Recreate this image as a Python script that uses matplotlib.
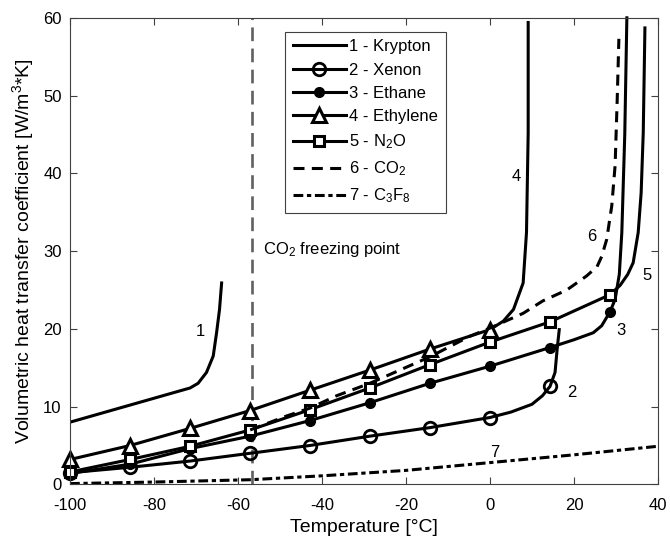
import numpy as np
import matplotlib.pyplot as plt

plt.rcParams['font.family'] = ['Liberation Sans', 'DejaVu Sans']
plt.rcParams['mathtext.fontset'] = 'custom'
plt.rcParams['mathtext.rm'] = 'Liberation Sans'
plt.rcParams['mathtext.it'] = 'Liberation Sans'
plt.rcParams['axes.unicode_minus'] = False

# temperatures where markers sit
mark_T = [-100, -85.7, -71.4, -57.1, -42.9, -28.6, -14.3, 0, 14.3, 28.6]

# 1 - Krypton
kr_T = [-100, -85.7, -71.4, -69.5, -67.5, -65.9, -65.1, -64.4, -63.9]
kr_V = [8.0, 10.2, 12.4, 13.0, 14.4, 16.5, 19.5, 22.5, 25.9]

# 2 - Xenon
xe_T = [-100, -85.7, -71.4, -57.1, -42.9, -28.6, -14.3, 0, 5, 10, 12.5, 14.3, 15.5, 16.0, 16.5]
xe_V = [1.5, 2.2, 3.0, 4.0, 5.0, 6.2, 7.3, 8.6, 9.3, 10.3, 11.4, 12.6, 14.4, 17.4, 19.9]

# 3 - Ethane
et_T = [-100, -85.7, -71.4, -57.1, -42.9, -28.6, -14.3, 0, 14.3, 20, 24.6, 26.6, 28.6,
        29.8, 30.8, 31.4, 32.1, 32.5, 32.6]
et_V = [1.4, 2.6, 4.6, 6.2, 8.2, 10.5, 13.0, 15.2, 17.6, 18.6, 19.5, 20.4, 22.2,
        23.8, 27.0, 32.4, 45.0, 57.0, 60.0]

# 4 - Ethylene
ey_T = [-100, -85.7, -71.4, -57.1, -42.9, -28.6, -14.3, 0, 3.2, 5.6, 7.9, 8.7, 9.1, 9.1]
ey_V = [3.2, 5.0, 7.2, 9.5, 12.1, 14.7, 17.4, 19.9, 21.0, 22.5, 25.9, 32.4, 45.2, 59.4]

# 5 - N2O
no_T = [-100, -85.7, -71.4, -57.1, -42.9, -28.6, -14.3, 0, 14.3, 28.6, 31.0, 32.8,
        34.1, 35.3, 36.0, 36.5, 36.9]
no_V = [1.6, 3.2, 4.9, 7.0, 9.6, 12.4, 15.4, 18.3, 20.9, 24.4, 25.6, 27.0,
        28.5, 32.4, 37.5, 45.2, 58.7]

# 6 - CO2
co_T = [-57.1, -48.4, -42.9, -36.5, -28.6, -14.3, -5, 0, 7.9, 12.6, 18.3, 23.0,
        25.5, 26.6, 27.8, 29.0, 29.8, 30.3, 30.7]
co_V = [7.0, 8.8, 9.8, 11.4, 13.0, 16.4, 19.0, 20.1, 22.0, 23.6, 25.0, 26.8,
        28.0, 29.3, 31.5, 35.8, 41.0, 49.5, 57.3]

# 7 - C3F8
cf_T = [-100, -80, -57, -40, -20, 0, 20, 40]
cf_V = [0.1, 0.3, 0.6, 1.1, 1.8, 2.8, 3.8, 4.9]

freeze_T = -56.6


def marks(T):
    return [i for i, t in enumerate(T) if t in mark_T]


fig = plt.figure(figsize=(6.7, 5.4), dpi=100)
ax = fig.add_axes([0.1045, 0.103, 0.8775, 0.864])

ax.axvline(freeze_T, color='#606060', lw=1.9, dashes=(5.2, 2.8), zorder=1)

lw = 2.2
k = 'black'
ax.plot(kr_T, kr_V, color=k, lw=lw, label='1 - Krypton')
ax.plot(xe_T, xe_V, color=k, lw=lw, marker='o', ms=9, mfc='none', mew=2,
        markevery=marks(xe_T), label='2 - Xenon', clip_on=False)
ax.plot(et_T, et_V, color=k, lw=lw, marker='o', ms=7, mfc=k, mew=1,
        markevery=marks(et_T), label='3 - Ethane', clip_on=False)
ax.plot(ey_T, ey_V, color=k, lw=lw, marker='^', ms=10, mfc='white', mew=2.2,
        markevery=marks(ey_T), label='4 - Ethylene', clip_on=False)
ax.plot(no_T, no_V, color=k, lw=lw, marker='s', ms=7, mfc='white', mew=2.2,
        markevery=marks(no_T), label='5 - N$_2$O', clip_on=False)
ax.plot(co_T, co_V, color=k, lw=lw, dashes=(3.6, 2.4), label='6 - CO$_2$')
ax.plot(cf_T, cf_V, color=k, lw=lw, dashes=(3.2, 1.2, 1.4, 1.2), label='7 - C$_3$F$_8$')

ax.set_xlim(-100, 40)
ax.set_ylim(0, 60)
ax.set_xticks(np.arange(-100, 41, 20))
ax.set_yticks(np.arange(0, 61, 10))
ax.tick_params(direction='in', top=True, right=True, length=5, width=0.8,
               labelsize=12, color='#404040')
ax.tick_params(axis='x', pad=10)
ax.tick_params(axis='y', pad=6)
for s in ax.spines.values():
    s.set_color('#404040')
    s.set_linewidth(0.8)

ax.set_xlabel('Temperature [°C]', fontsize=14, labelpad=4)
ax.set_ylabel('Volumetric heat transfer coefficient [W/m$^3$*K]', fontsize=14, labelpad=5)

ax.text(-54.0, 30.2, 'CO$_2$ freezing point', fontsize=12, ha='left', va='center')

for txt, x, y in [('1', -69.0, 19.7), ('2', 19.4, 11.8), ('3', 31.3, 19.8),
                  ('4', 6.3, 39.6), ('5', 37.3, 26.8), ('6', 24.2, 31.9), ('7', 1.2, 4.1)]:
    ax.text(x, y, txt, fontsize=12, ha='center', va='center')

leg = ax.legend(loc='upper left', bbox_to_anchor=(0.366, 0.970), borderaxespad=0,
                fontsize=12, handlelength=3.2, fancybox=False, framealpha=1,
                edgecolor='#404040', borderpad=0.45, labelspacing=0.5, handletextpad=0.2)
leg.get_frame().set_linewidth(0.8)

fig.savefig('out.png', dpi=100)
